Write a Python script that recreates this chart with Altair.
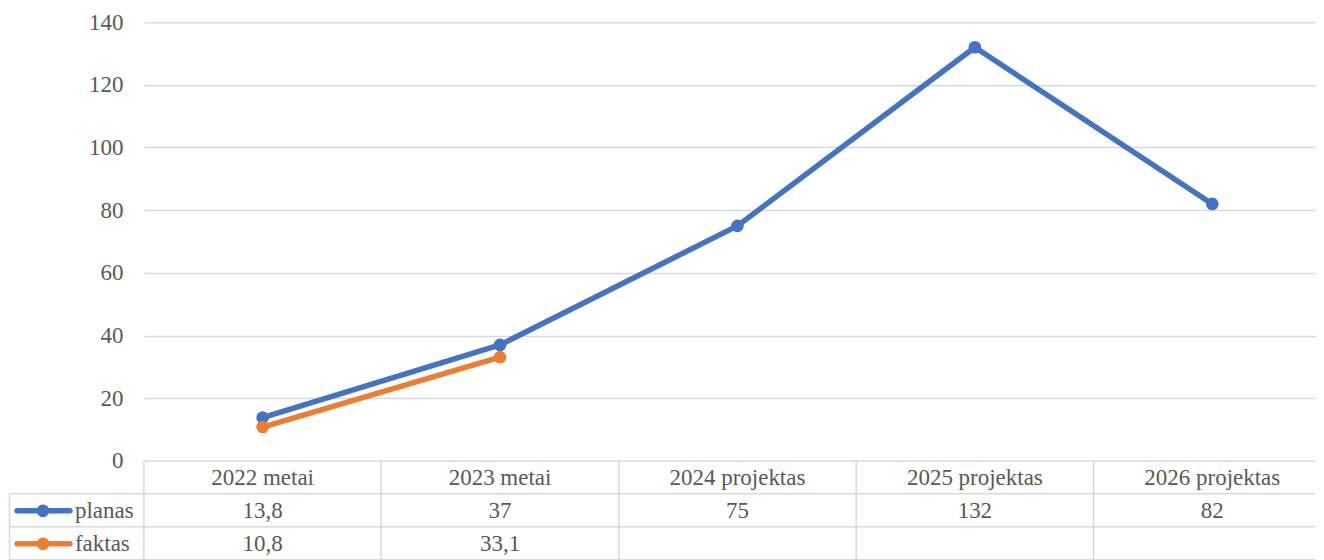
import altair as alt
import pandas as pd

categories = ["2022 metai", "2023 metai", "2024 projektas", "2025 projektas", "2026 projektas"]
planas = [13.8, 37, 75, 132, 82]
faktas = [10.8, 33.1, None, None, None]
series_names = ["planas", "faktas"]
series_colors = ["#4472C4", "#ED7D31"]
y_ticks = [0, 20, 40, 60, 80, 100, 120, 140]


def fmt(v):
    if v is None:
        return ""
    return ("%g" % v).replace(".", ",")


rows = []
for s, vals in zip(series_names, [planas, faktas]):
    for c, v in zip(categories, vals):
        rows.append({"cat": c, "series": s, "value": v, "label": fmt(v)})
df = pd.DataFrame(rows)
cat_df = pd.DataFrame({"cat": categories})

W = 1172
XR = 1188
H = 439
FONT = "Liberation Serif"
FS = 23
TXT = "#595959"
GRID = "#d9d9d9"
GW = 1.5

x_scale = alt.Scale(type="band", domain=categories, paddingInner=0, paddingOuter=0, range=[0, XR])
y_scale = alt.Scale(domain=[0, 140], nice=False)

header_y = 456
row_y = {"planas": 489, "faktas": 522}
line_rows = [472, 505, 538]

layers = []

# vertical table borders at band starts
layers.append(
    alt.Chart(cat_df).mark_rule(color=GRID, strokeWidth=GW).encode(
        x=alt.X("cat:N", bandPosition=0, scale=x_scale, axis=None),
        y=alt.value(H),
        y2=alt.value(line_rows[-1] + 20),
    )
)

# left border of legend column
layers.append(
    alt.Chart(cat_df.head(1)).mark_rule(color=GRID, strokeWidth=GW).encode(
        x=alt.value(-134.5), y=alt.value(line_rows[0]), y2=alt.value(line_rows[-1] + 20)
    )
)

# horizontal table lines
for ly in line_rows:
    layers.append(
        alt.Chart(cat_df.head(1)).mark_rule(color=GRID, strokeWidth=GW).encode(
            x=alt.value(-134.5), x2=alt.value(W), y=alt.value(ly)
        )
    )

# header row (categories)
layers.append(
    alt.Chart(cat_df).mark_text(font=FONT, fontSize=FS, color=TXT, baseline="middle").encode(
        x=alt.X("cat:N", bandPosition=0.5, scale=x_scale, axis=None),
        y=alt.value(header_y),
        text="cat:N",
    )
)

# lines with points
for s, col in zip(series_names, series_colors):
    base = alt.Chart(df).transform_filter(alt.datum.series == s).transform_filter(
        "isValid(datum.value)"
    )
    enc = dict(
        x=alt.X("cat:N", bandPosition=0.5, scale=x_scale, axis=None),
        y=alt.Y("value:Q", scale=y_scale,
                axis=alt.Axis(values=y_ticks, title=None, grid=True, gridColor=GRID,
                              gridWidth=GW, domain=False, ticks=False,
                              labelFont=FONT, labelFontSize=FS, labelColor=TXT,
                              labelPadding=21)),
    )
    layers.append(base.mark_line(color=col, strokeWidth=5.5, strokeCap="round", strokeJoin="round").encode(**enc))
    layers.append(base.mark_point(color=col, filled=True, size=160, opacity=1).encode(**enc))

# table values and legend column
for s, col in zip(series_names, series_colors):
    ry = row_y[s]
    layers.append(
        alt.Chart(df).transform_filter(alt.datum.series == s).mark_text(
            font=FONT, fontSize=FS, color=TXT, baseline="middle"
        ).encode(
            x=alt.X("cat:N", bandPosition=0.5, scale=x_scale, axis=None),
            y=alt.value(ry),
            text="label:N",
        )
    )
    leg = alt.Chart(cat_df.head(1))
    layers.append(
        leg.mark_rule(color=col, strokeWidth=5.5, strokeCap="round").encode(
            x=alt.value(-127), x2=alt.value(-74), y=alt.value(ry)
        )
    )
    layers.append(
        leg.mark_point(color=col, filled=True, size=160, opacity=1).encode(
            x=alt.value(-101), y=alt.value(ry)
        )
    )
    layers.append(
        leg.mark_text(font=FONT, fontSize=FS, color=TXT, align="left", baseline="middle").encode(
            x=alt.value(-69), y=alt.value(ry), text=alt.value(s)
        )
    )

chart = alt.layer(*layers).properties(
    width=W, height=H,
    padding={"left": 0, "top": 3, "right": 0, "bottom": 0},
).configure(font=FONT).configure_axis(labelFont=FONT).configure_text(font=FONT).configure_view(stroke=None)

chart.save("out.html", embed_options={"renderer": "svg", "actions": False})
